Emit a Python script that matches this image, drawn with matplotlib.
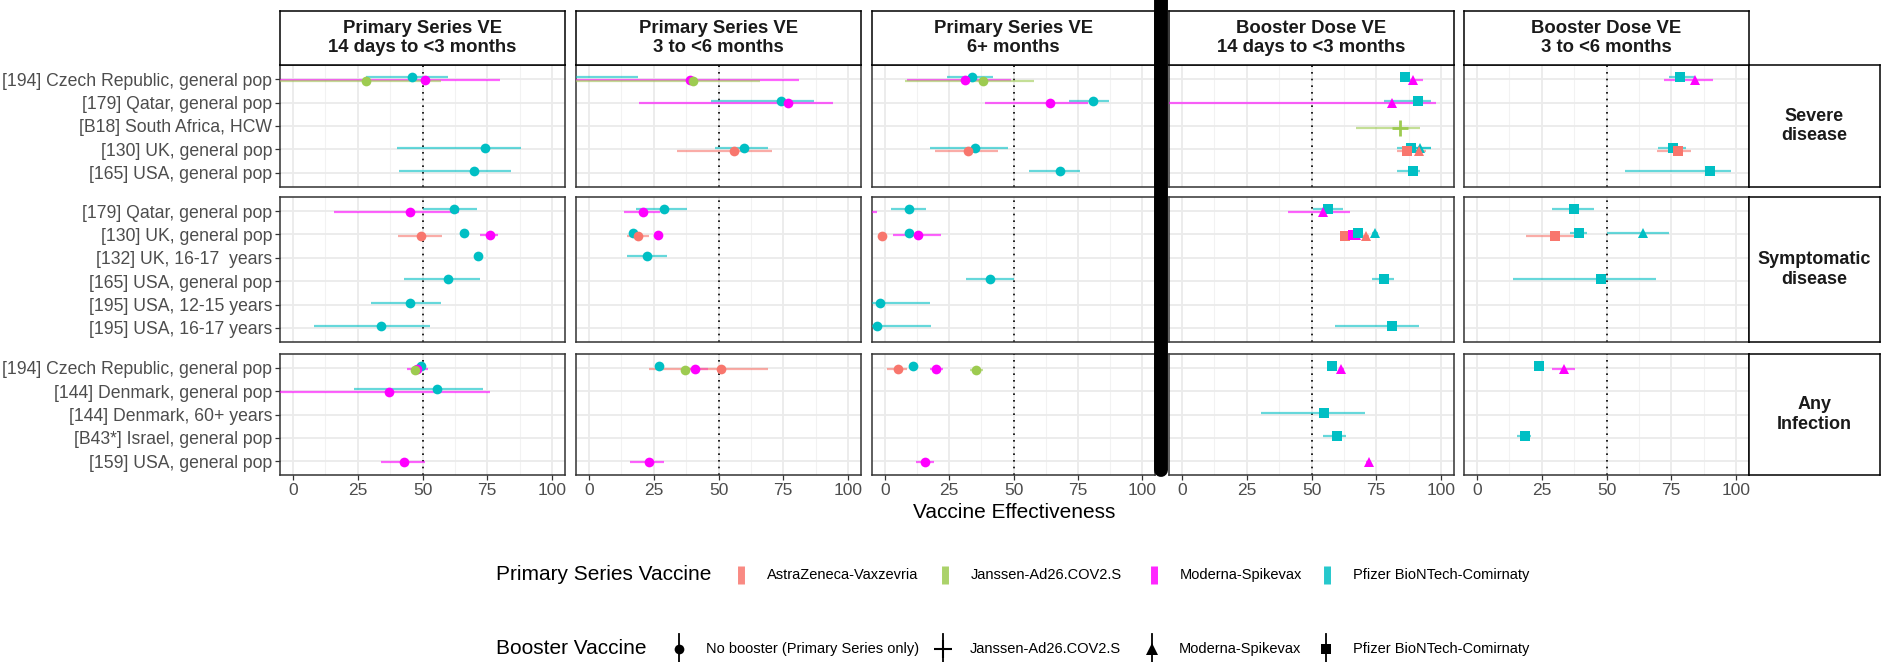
import matplotlib
matplotlib.use("Agg")
import matplotlib.pyplot as plt

plt.rcParams["font.family"] = ["Liberation Sans", "DejaVu Sans"]

W, H = 1894, 662

# --- categories -------------------------------------------------------------
severe_studies = ["[194] Czech Republic, general pop", "[179] Qatar, general pop",
                  "[B18] South Africa, HCW", "[130] UK, general pop",
                  "[165] USA, general pop"]
symptomatic_studies = ["[179] Qatar, general pop", "[130] UK, general pop",
                       "[132] UK, 16-17  years", "[165] USA, general pop",
                       "[195] USA, 12-15 years", "[195] USA, 16-17 years"]
infection_studies = ["[194] Czech Republic, general pop", "[144] Denmark, general pop",
                     "[144] Denmark, 60+ years", "[B43*] Israel, general pop",
                     "[159] USA, general pop"]

outcomes = ["severe", "symptomatic", "infection"]
outcome_titles = ["Severe\ndisease", "Symptomatic\ndisease", "Any\nInfection"]
panel_titles = ["Primary Series VE\n14 days to <3 months", "Primary Series VE\n3 to <6 months",
                "Primary Series VE\n6+ months", "Booster Dose VE\n14 days to <3 months",
                "Booster Dose VE\n3 to <6 months"]

vaccine_codes = ["AZ", "J", "M", "P"]
vaccine_labels = ["AstraZeneca-Vaxzevria", "Janssen-Ad26.COV2.S", "Moderna-Spikevax",
                  "Pfizer BioNTech-Comirnaty"]
vaccine_colors = ["#F8766D", "#9DCB50", "#FF00FF", "#00BFC4"]

booster_codes = ["none", "J", "M", "P"]
booster_labels = ["No booster (Primary Series only)", "Janssen-Ad26.COV2.S",
                  "Moderna-Spikevax", "Pfizer BioNTech-Comirnaty"]
booster_markers = ["o", "+", "^", "s"]

# --- estimates: (outcome, study index, primary, booster, VE, lower, upper) ---
ps_14d = [
    ("severe", 0, "P", "none", 46, 28, 60),
    ("severe", 0, "M", "none", 51, -20, 80),
    ("severe", 0, "J", "none", 28, -20, 57),
    ("severe", 3, "P", "none", 74, 40, 88),
    ("severe", 4, "P", "none", 70, 41, 84),
    ("symptomatic", 0, "P", "none", 62, 50, 71),
    ("symptomatic", 0, "M", "none", 45, 16, 64),
    ("symptomatic", 1, "AZ", "none", 49.5, 40.5, 57.5),
    ("symptomatic", 1, "P", "none", 66, 65, 67),
    ("symptomatic", 1, "M", "none", 76, 72, 79),
    ("symptomatic", 2, "P", "none", 71.5, 70, 73),
    ("symptomatic", 3, "P", "none", 60, 43, 72),
    ("symptomatic", 4, "P", "none", 45, 30, 57),
    ("symptomatic", 5, "P", "none", 34, 8, 53),
    ("infection", 0, "P", "none", 49.4, 48, 50.5),
    ("infection", 0, "M", "none", 48, 44, 52),
    ("infection", 0, "J", "none", 47, 46, 48),
    ("infection", 1, "P", "none", 55.5, 23.5, 73.5),
    ("infection", 1, "M", "none", 37, -20, 76),
    ("infection", 4, "M", "none", 42.7, 34, 51),
]

ps_3to6 = [
    ("severe", 0, "P", "none", -15, -50, 19),
    ("severe", 0, "M", "none", 39, -30, 81),
    ("severe", 0, "J", "none", 40, -30, 66),
    ("severe", 1, "P", "none", 74, 47, 87),
    ("severe", 1, "M", "none", 77, 19.5, 94),
    ("severe", 3, "P", "none", 60, 48.5, 69),
    ("severe", 3, "AZ", "none", 56, 34, 70.5),
    ("symptomatic", 0, "P", "none", 29, 18, 38),
    ("symptomatic", 0, "M", "none", 21, 13.5, 27.5),
    ("symptomatic", 1, "P", "none", 17, 16, 18),
    ("symptomatic", 1, "AZ", "none", 19, 14.5, 23),
    ("symptomatic", 1, "M", "none", 26.5, 25.5, 27.5),
    ("symptomatic", 2, "P", "none", 22.5, 14.5, 30),
    ("infection", 0, "P", "none", 27, 25.5, 28.5),
    ("infection", 0, "J", "none", 37, 36, 38),
    ("infection", 0, "M", "none", 41, 38, 46),
    ("infection", 0, "AZ", "none", 51, 23, 69),
    ("infection", 4, "M", "none", 23, 16, 29),
]

ps_6plus = [
    ("severe", 0, "P", "none", 34, 24, 42),
    ("severe", 0, "M", "none", 31, 8.5, 49),
    ("severe", 0, "J", "none", 38, 8, 58),
    ("severe", 1, "P", "none", 81, 71.5, 87),
    ("severe", 1, "M", "none", 64, 39, 79),
    ("severe", 3, "P", "none", 35, 17.5, 48),
    ("severe", 3, "AZ", "none", 32.5, 19.5, 44),
    ("severe", 4, "P", "none", 68, 56, 76),
    ("symptomatic", 0, "P", "none", 9.5, 2.5, 16),
    ("symptomatic", 0, "M", "none", -12, -30, -3),
    ("symptomatic", 1, "AZ", "none", -1, -2, 0),
    ("symptomatic", 1, "P", "none", 9.5, 9, 10.5),
    ("symptomatic", 1, "M", "none", 13, 3, 22),
    ("symptomatic", 3, "P", "none", 41, 31.5, 50),
    ("symptomatic", 4, "P", "none", -2, -8, 17.5),
    ("symptomatic", 5, "P", "none", -3, -8, 18),
    ("infection", 0, "AZ", "none", 5, 1, 8.5),
    ("infection", 0, "P", "none", 11, 10, 12),
    ("infection", 0, "M", "none", 20, 17.5, 22.5),
    ("infection", 0, "J", "none", 35.5, 33, 38),
    ("infection", 4, "M", "none", 15.5, 12, 19),
]

bd_14d = [
    ("severe", 0, "P", "P", 86, 84, 88),
    ("severe", 0, "M", "M", 89, 87, 93),
    ("severe", 1, "P", "P", 91, 78, 96),
    ("severe", 1, "M", "M", 81, -20, 98),
    ("severe", 2, "J", "J", 84, 67, 92),
    ("severe", 3, "P", "P", 88.5, 83, 96),
    ("severe", 3, "P", "M", 92, 88, 96),
    ("severe", 3, "AZ", "P", 87, 83, 91),
    ("severe", 3, "AZ", "M", 91.5, 88, 94),
    ("severe", 4, "P", "P", 89, 83, 92),
    ("symptomatic", 0, "P", "P", 56.5, 50.5, 62),
    ("symptomatic", 0, "M", "M", 54.5, 41, 65),
    ("symptomatic", 1, "AZ", "P", 63, 62, 64),
    ("symptomatic", 1, "M", "P", 66, 65, 67),
    ("symptomatic", 1, "M", "M", 67, 66, 68),
    ("symptomatic", 1, "P", "P", 68, 67, 69),
    ("symptomatic", 1, "AZ", "M", 71, 70, 72),
    ("symptomatic", 1, "P", "M", 74.5, 73.5, 75.5),
    ("symptomatic", 3, "P", "P", 78, 73.5, 82),
    ("symptomatic", 5, "P", "P", 81, 59, 91.5),
    ("infection", 0, "P", "P", 58, 57, 59),
    ("infection", 0, "M", "M", 61.5, 60.5, 62.5),
    ("infection", 2, "P", "P", 55, 30.5, 70.5),
    ("infection", 3, "P", "P", 60, 54.5, 63.5),
    ("infection", 4, "M", "M", 72, 71, 73),
]

bd_3to6 = [
    ("severe", 0, "P", "P", 78.5, 74, 84),
    ("severe", 0, "M", "M", 84, 72, 91),
    ("severe", 3, "P", "P", 75.5, 70, 80.5),
    ("severe", 3, "AZ", "P", 77.5, 69.5, 82.5),
    ("severe", 4, "P", "P", 90, 57, 98),
    ("symptomatic", 0, "P", "P", 37.5, 29, 45),
    ("symptomatic", 1, "AZ", "P", 30, 19, 38.5),
    ("symptomatic", 1, "P", "P", 39.5, 36, 42.5),
    ("symptomatic", 1, "P", "M", 64, 50, 74),
    ("symptomatic", 3, "P", "P", 48, 14, 69),
    ("infection", 0, "P", "P", 24, 22, 26),
    ("infection", 0, "M", "M", 33.5, 29, 38),
    ("infection", 3, "P", "P", 18.5, 15.5, 21),
]

panels = [ps_14d, ps_3to6, ps_6plus, bd_14d, bd_3to6]
row_studies = [severe_studies, symptomatic_studies, infection_studies]

# --- layout (pixels) ---------------------------------------------------------
col_edges = [(280, 565), (576, 861), (872, 1155), (1169, 1454), (1464, 1749)]
row_edges = [(65, 187), (197, 342), (354, 475)]
strip_top = 11
row_strip_right = 1880
dodge = {"P": -0.08, "AZ": 0.05, "J": 0.07, "M": 0.04}

color_of = dict(zip(vaccine_codes, vaccine_colors))
marker_of = dict(zip(booster_codes, booster_markers))

fig = plt.figure(figsize=(W / 100, H / 100), dpi=100)


def px_axes(x0, y0, x1, y1):
    return fig.add_axes([x0 / W, 1 - y1 / H, (x1 - x0) / W, (y1 - y0) / H])


def draw_marker(ax, x, y, color, marker):
    kw = dict(color=color, linestyle="none", zorder=4, clip_on=True)
    if marker == "+":
        ax.plot(x, y, marker="+", markersize=11, markeredgewidth=2, **kw)
    elif marker == "^":
        ax.plot(x, y, marker="^", markersize=7.5, markeredgewidth=0, **kw)
    elif marker == "s":
        ax.plot(x, y, marker="s", markersize=6.5, markeredgewidth=0, **kw)
    else:
        ax.plot(x, y, marker="o", markersize=7, markeredgewidth=0, **kw)


for r, outcome in enumerate(outcomes):
    studies = row_studies[r]
    y0, y1 = row_edges[r]
    for c, data in enumerate(panels):
        x0, x1 = col_edges[c]
        ax = px_axes(x0, y0, x1, y1)
        ax.set_xlim(-5, 105)
        ax.set_ylim(len(studies) - 0.4, -0.6)
        ax.set_xticks([0, 25, 50, 75, 100])
        ax.set_xticks([12.5, 37.5, 62.5, 87.5], minor=True)
        ax.set_yticks(range(len(studies)))
        ax.set_axisbelow(True)
        ax.grid(which="major", color="#EBEBEB", lw=1.3)
        ax.grid(which="minor", axis="x", color="#F2F2F2", lw=0.8)
        for s in ax.spines.values():
            s.set_color("#333333")
            s.set_linewidth(1.1)
        ax.tick_params(which="minor", length=0)
        ax.tick_params(which="major", length=3.5, width=0.9, color="#333333",
                       labelcolor="#4D4D4D", labelsize=12.7, pad=2)
        if c == 0:
            ax.set_yticklabels(studies)
        else:
            ax.tick_params(axis="y", length=0, labelleft=False)
        if r == len(outcomes) - 1:
            ax.tick_params(axis="x", labelsize=12.5)
        else:
            ax.tick_params(axis="x", length=0, labelbottom=False)
        ax.axvline(50, color="black", lw=1.2, linestyle=(0, (1, 3)), zorder=2)

        for (oc, si, prim, boost, ve, lo, hi) in data:
            if oc != outcome:
                continue
            y = si + dodge[prim]
            ax.plot([lo, hi], [y, y], color=color_of[prim], lw=1.6, alpha=0.6,
                    solid_capstyle="butt", zorder=3)
            draw_marker(ax, ve, y, color_of[prim], marker_of[boost])

        # row strip on the right
        if c == len(panels) - 1:
            sx = px_axes(x1, y0, row_strip_right, y1)
            sx.set_xticks([])
            sx.set_yticks([])
            for s in sx.spines.values():
                s.set_color("black")
                s.set_linewidth(1.1)
            sx.text(0.5, 0.5, outcome_titles[r], ha="center", va="center",
                    fontsize=13, fontweight="bold", color="#1A1A1A",
                    transform=sx.transAxes, linespacing=1.2)

# column strips
for c, title in enumerate(panel_titles):
    x0, x1 = col_edges[c]
    sx = px_axes(x0, strip_top, x1, row_edges[0][0])
    sx.set_xticks([])
    sx.set_yticks([])
    for s in sx.spines.values():
        s.set_color("black")
        s.set_linewidth(1.1)
    sx.text(0.5, 0.5, title, ha="center", va="center", fontsize=13.3,
            fontweight="bold", color="#1A1A1A", transform=sx.transAxes,
            linespacing=1.2)

# overlay for axis title, legends and separator
ov = fig.add_axes([0, 0, 1, 1])
ov.set_xlim(0, W)
ov.set_ylim(H, 0)
ov.axis("off")

ov.text((col_edges[0][0] + col_edges[-1][1]) / 2, 513, "Vaccine Effectiveness",
        ha="center", va="center", fontsize=15, color="black")

# thick separator between primary series and booster panels
ov.plot([1161, 1161], [-20, 470], color="black", lw=10, solid_capstyle="round",
        clip_on=False)

# legend: primary series vaccine (colour)
ly1 = 575
ov.text(496, ly1, "Primary Series Vaccine", ha="left", va="center", fontsize=15)
key_x1 = [741, 945, 1154, 1327]
for kx, lab, col in zip(key_x1, vaccine_labels, vaccine_colors):
    ov.plot([kx, kx], [ly1 - 9, ly1 + 9], color=col, lw=5, alpha=0.85,
            solid_capstyle="butt")
    ov.text(kx + 26, ly1, lab, ha="left", va="center", fontsize=10.5)

# legend: booster vaccine (shape)
ly2 = 649
ov.text(496, ly2, "Booster Vaccine", ha="left", va="center", fontsize=15)
key_x2 = [679, 943, 1152, 1326]
for kx, lab, mk in zip(key_x2, booster_labels, booster_markers):
    ov.plot([kx, kx], [ly2 - 15, ly2 + 15], color="black", lw=1.3)
    if mk == "+":
        ov.plot(kx, ly2, marker="+", markersize=13, markeredgewidth=1.5,
                color="black")
    elif mk == "^":
        ov.plot(kx, ly2, marker="^", markersize=8, markeredgewidth=0, color="black")
    elif mk == "s":
        ov.plot(kx, ly2, marker="s", markersize=6.5, markeredgewidth=0, color="black")
    else:
        ov.plot(kx, ly2, marker="o", markersize=7, markeredgewidth=0, color="black")
    ov.text(kx + 27, ly2, lab, ha="left", va="center", fontsize=10.5)

fig.savefig("out.png", dpi=100)
